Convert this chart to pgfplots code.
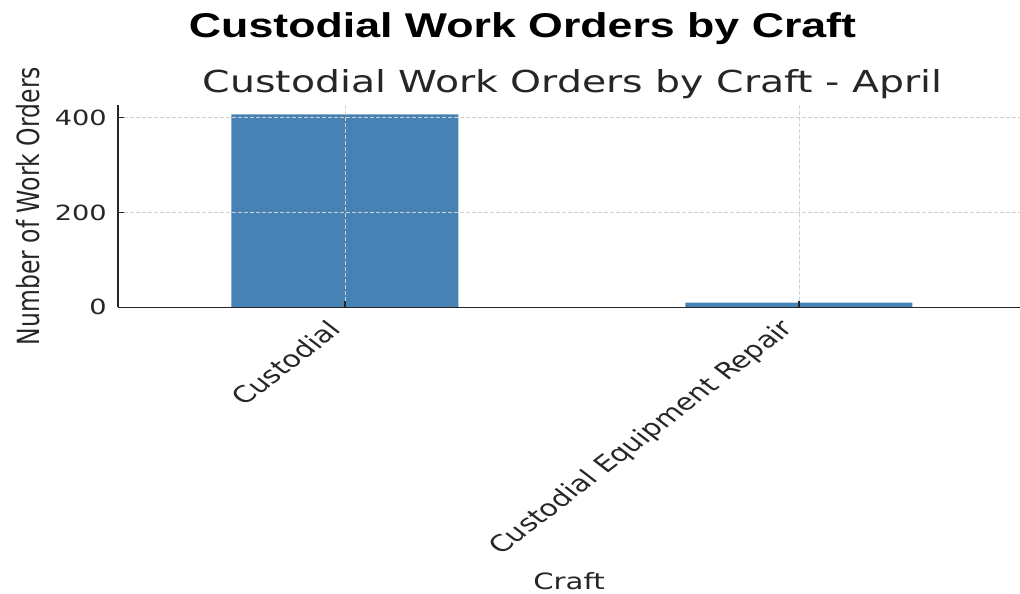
\documentclass[border=0pt]{standalone}
\usepackage{fontspec}
\setmainfont{DejaVu Sans}
\newfontfamily\titlefont{Liberation Sans}
\usepackage{pgfplots}
\pgfplotsset{compat=1.18}
\definecolor{steelblue}{HTML}{4682B4}
\definecolor{txt}{HTML}{262626}
\definecolor{gridc}{HTML}{D0D0D0}
\begin{document}
\begin{tikzpicture}
\useasboundingbox (0,0) rectangle (1020bp,594bp);
\begin{axis}[
  at={(118bp,286.7bp)}, anchor=south west,
  width=902bp, height=202.3bp, scale only axis,
  xmin=-0.5, xmax=1.487, ymin=0, ymax=427,
  axis x line*=bottom, axis y line*=left,
  axis line style={-, color=txt, line width=1.3bp},
  xtick={0,1}, xticklabels={Custodial, Custodial Equipment Repair},
  ytick={0,200,400},
  tick align=inside, major tick length=6bp,
  tick style={color=txt, line width=1.2bp},
  grid=major,
  major grid style={color=gridc, dash pattern=on 4bp off 2bp, line width=0.8bp},
  axis on top,
  /pgf/number format/assume math mode=true,
  yticklabel style={font=\fontsize{21}{25}\selectfont, text=txt, inner sep=0pt, xshift=-11bp, xscale=1.3, anchor=east},
  xticklabel style={font=\fontsize{23}{27}\selectfont, text=txt, inner sep=0pt, anchor=east, xshift=-10bp, yshift=-18bp, xscale=1.3, rotate=45},
  ylabel={Number of Work Orders},
  every axis y label/.style={at={(axis description cs:0,0.5)}, anchor=south, xshift=-78bp, xscale=1.3, rotate=90, inner sep=0pt, font=\fontsize{23.6}{28}\selectfont, text=txt},
  xlabel={Craft},
  every axis x label/.style={at={(axis description cs:0.5,0)}, anchor=base, yshift=-282bp, xscale=1.3, inner sep=0pt, font=\fontsize{22.5}{26}\selectfont, text=txt},
]
\addplot[ybar, bar width=0.5, fill=steelblue, draw=none] coordinates {(0,407) (1,10)};
\end{axis}
\node[anchor=base, xscale=1.3, inner sep=0pt, font=\titlefont\bfseries\fontsize{34.5}{40}\selectfont] at (522.5bp,556.5bp) {Custodial Work Orders by Craft};
\node[anchor=base, xscale=1.3, inner sep=0pt, text=txt, font=\fontsize{30.4}{36}\selectfont] at (572.5bp,501bp) {Custodial Work Orders by Craft - April};
\end{tikzpicture}
\end{document}
